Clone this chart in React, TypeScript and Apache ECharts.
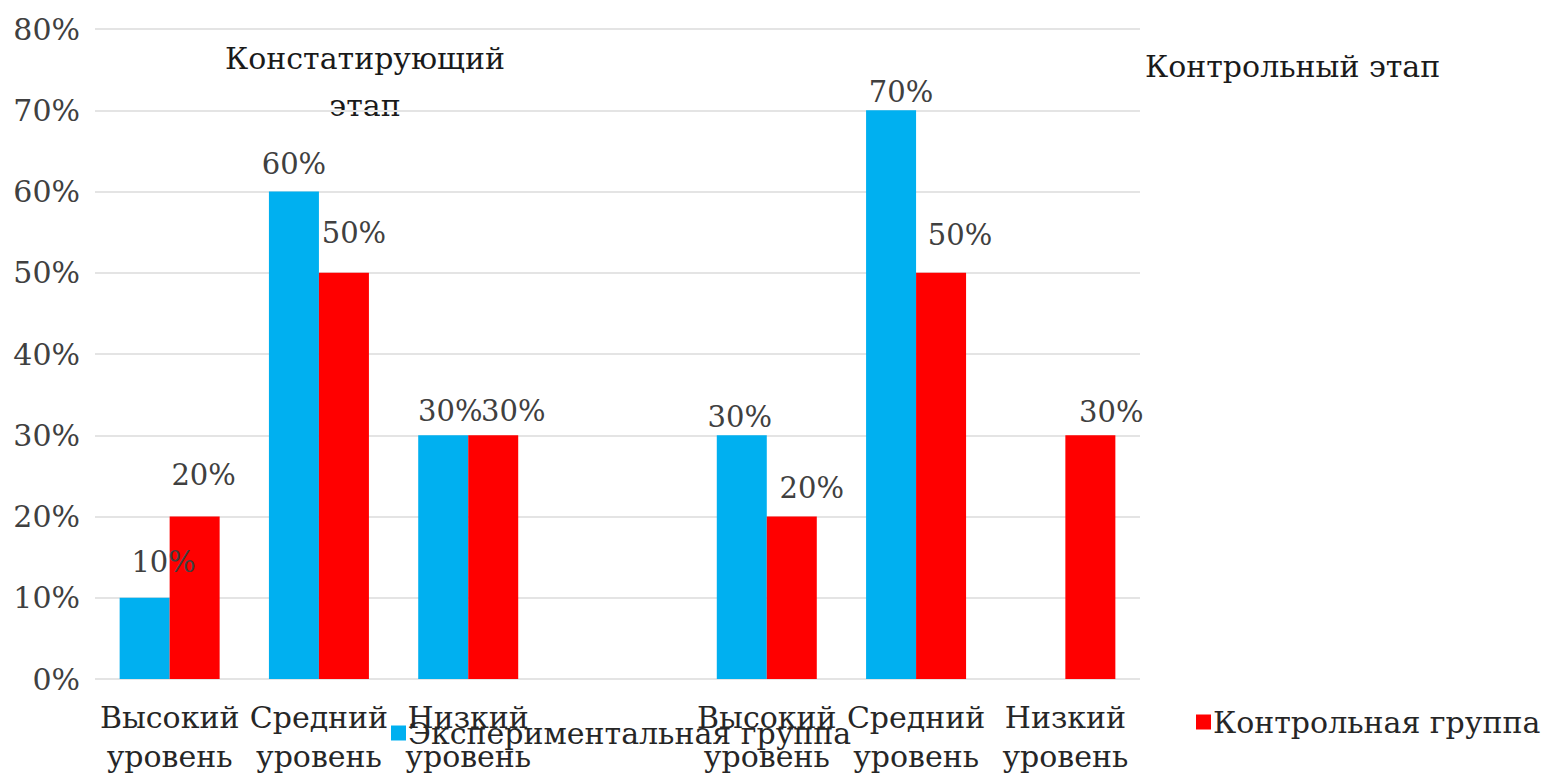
import React, { useEffect, useRef } from "react";
import * as echarts from "echarts";

const categories = [
  "Высокий\nуровень",
  "Средний\nуровень",
  "Низкий\nуровень",
  "",
  "Высокий\nуровень",
  "Средний\nуровень",
  "Низкий\nуровень",
];
const experimentalGroup = [10, 60, 30, null, 30, 70, 0];
const controlGroup = [20, 50, 30, null, 20, 50, 30];
const seriesNames = ["Экспериментальная группа", "Контрольная группа"];
const stageTitles = ["Констатирующий\nэтап", "Контрольный этап"];

// small label nudges (dx, extra lift) mimicking the original label placement
const expLabelNudge = [[19, 18], [0, 10], [7, 7], [0, 0], [-2, 1], [10, 1], [0, 0]];
const ctrlLabelNudge = [[9, 24], [10, 22], [20, 7], [0, 0], [20, 11], [19, 20], [21, 6]];

const FONT = "DejaVu Serif";
const FS = 30;

export default function App() {
  const ref = useRef<HTMLDivElement>(null);
  useEffect(() => {
    document.body.style.margin = "0";
    const chart = echarts.init(ref.current!, null, { renderer: "svg" });
    const labelCfg = {
      show: true,
      position: "top",
      distance: 3,
      fontFamily: FONT,
      fontSize: 29,
      color: "#404040",
      formatter: (p: any) => (p.value ? p.value + "%" : ""),
    };
    const build = (vals: (number | null)[], nudges: number[][]) =>
      vals.map((v, i) => ({
        value: v,
        label: { offset: [nudges[i][0], -nudges[i][1]] },
      }));
    chart.setOption({
      animation: false,
      backgroundColor: "#ffffff",
      textStyle: { fontFamily: FONT },
      grid: { left: 95, right: 418, top: 29, bottom: 100, containLabel: false },
      xAxis: {
        type: "category",
        data: categories,
        axisLine: { show: false },
        axisTick: { show: false },
        axisLabel: {
          interval: 0,
          hideOverlap: false,
          fontFamily: FONT,
          fontSize: FS,
          lineHeight: 39,
          color: "#262626",
          margin: 19,
        },
      },
      yAxis: {
        type: "value",
        min: 0,
        max: 80,
        interval: 10,
        axisLine: { show: false },
        axisTick: { show: false },
        splitLine: { lineStyle: { color: "#e4e4e4", width: 2 } },
        axisLabel: {
          formatter: "{value}%",
          fontFamily: FONT,
          fontSize: FS,
          color: "#404040",
          margin: 15,
        },
      },
      legend: [
        {
          data: [seriesNames[0]],
          left: 386,
          top: 713,
          icon: "rect",
          itemWidth: 15,
          itemHeight: 15,
          itemGap: 0,
          textStyle: { fontFamily: FONT, fontSize: FS, color: "#262626", padding: [0, 0, 0, -3] },
        },
        {
          data: [seriesNames[1]],
          left: 1191,
          top: 702,
          icon: "rect",
          itemWidth: 15,
          itemHeight: 15,
          itemGap: 0,
          textStyle: { fontFamily: FONT, fontSize: FS, color: "#262626", padding: [0, 0, 0, -3] },
        },
      ],
      graphic: [
        {
          type: "text",
          x: 365,
          y: 35,
          style: {
            text: stageTitles[0],
            fontFamily: FONT,
            fontSize: FS,
            lineHeight: 47,
            fill: "#1a1a1a",
            align: "center",
          },
        },
        {
          type: "text",
          x: 1145,
          y: 51,
          style: {
            text: stageTitles[1],
            fontFamily: FONT,
            fontSize: FS,
            fill: "#1a1a1a",
            align: "left",
          },
        },
      ],
      series: [
        {
          name: seriesNames[0],
          type: "bar",
          data: build(experimentalGroup, expLabelNudge),
          barWidth: 50,
          barGap: "0%",
          itemStyle: { color: "#00B0F0" },
          label: labelCfg,
        },
        {
          name: seriesNames[1],
          type: "bar",
          data: build(controlGroup, ctrlLabelNudge),
          barWidth: 50,
          barGap: "0%",
          itemStyle: { color: "#FF0000" },
          label: labelCfg,
        },
      ],
    });
    return () => chart.dispose();
  }, []);
  return (
    <div
      ref={ref}
      style={{ position: "absolute", left: 0, top: 0, width: 1558, height: 779 }}
    />
  );
}
